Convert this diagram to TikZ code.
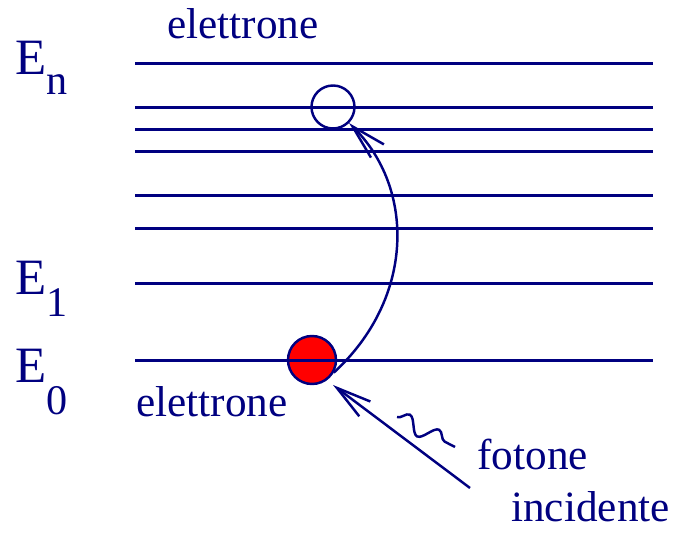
\documentclass[tikz,border=0pt]{standalone}
\usepackage{fontspec}
\setmainfont{Liberation Serif}
\usepackage{tikz}
\usetikzlibrary{arrows.meta, decorations.pathmorphing}
\definecolor{mynavy}{RGB}{0,0,128}
\definecolor{myred}{RGB}{255,0,0}
\tikzset{
  level/.style={draw=mynavy, line width=1.4pt},
  txt/.style={anchor=base west, inner sep=0pt, text=mynavy,
    font=\fontsize{24.6}{28}\selectfont},
  elabel/.style={txt, font=\fontsize{29}{34}\selectfont},
  electron/.style={circle, draw=mynavy, fill=myred,
    minimum size=0.96cm, inner sep=0pt, line width=1.4pt},
  hole/.style={circle, draw=mynavy,
    minimum size=0.86cm, inner sep=0pt, line width=1.4pt},
  arrow/.style={-{Straight Barb[length=0.7cm, width=0.37cm]},
    line width=1.4pt, color=mynavy},
  wave/.style={decorate, decoration={snake, segment length=0.66cm, amplitude=0.16cm},
    line width=1.4pt, color=mynavy}
}
\newcommand{\sublow}[2]{\raisebox{-#1}{\fontsize{24}{28}\selectfont #2}}

\begin{document}
\begin{tikzpicture}
  \useasboundingbox (0,0) rectangle (13.54,10.66);

  % Electron states
  \node[hole] (empty) at (6.66,8.52) {};
  \node[electron] (full) at (6.24,3.46) {};

  % Energy levels
  \draw[level] (2.70,9.39) -- (13.05,9.39);
  \draw[level] (2.70,8.51) -- (13.05,8.51);
  \draw[level] (2.70,8.07) -- (13.05,8.07);
  \draw[level] (2.70,7.63) -- (13.05,7.63);
  \draw[level] (2.70,6.75) -- (13.05,6.75);
  \draw[level] (2.70,6.09) -- (13.05,6.09);
  \draw[level] (2.70,4.99) -- (13.05,4.99);
  \draw[level] (2.70,3.45) -- (13.05,3.45);

  % Level names
  \node[elabel] (en) at (0.3,9.16) {E\sublow{0.4cm}{n}};
  \node[elabel] (e1) at (0.3,4.76) {E\sublow{0.44cm}{1}};
  \node[elabel] (e0) at (0.3,3.00) {E\sublow{0.64cm}{0}};

  % Texts
  \node[txt] (eltop) at (3.34,9.88) {elettrone};
  \node[txt] (elbot) at (2.72,2.32) {elettrone};
  \node[txt] (fot) at (9.54,1.26) {fotone};
  \node[txt] (inc) at (10.22,0.22) {incidente};

  % Photon
  \coordinate (src) at (9.4,0.9);
  \coordinate (hit) at (6.66,2.96);
  \coordinate (w1) at (7.94,2.32);
  \coordinate (w2) at (9.1,1.72);
  \draw[arrow] (src) -- (hit);
  \draw[wave] (w1) -- (w2);

  % Transition
  \draw[arrow] (full.-30) .. controls (8.3,4.7) and (8.3,6.9) .. (empty.-45);
\end{tikzpicture}
\end{document}
